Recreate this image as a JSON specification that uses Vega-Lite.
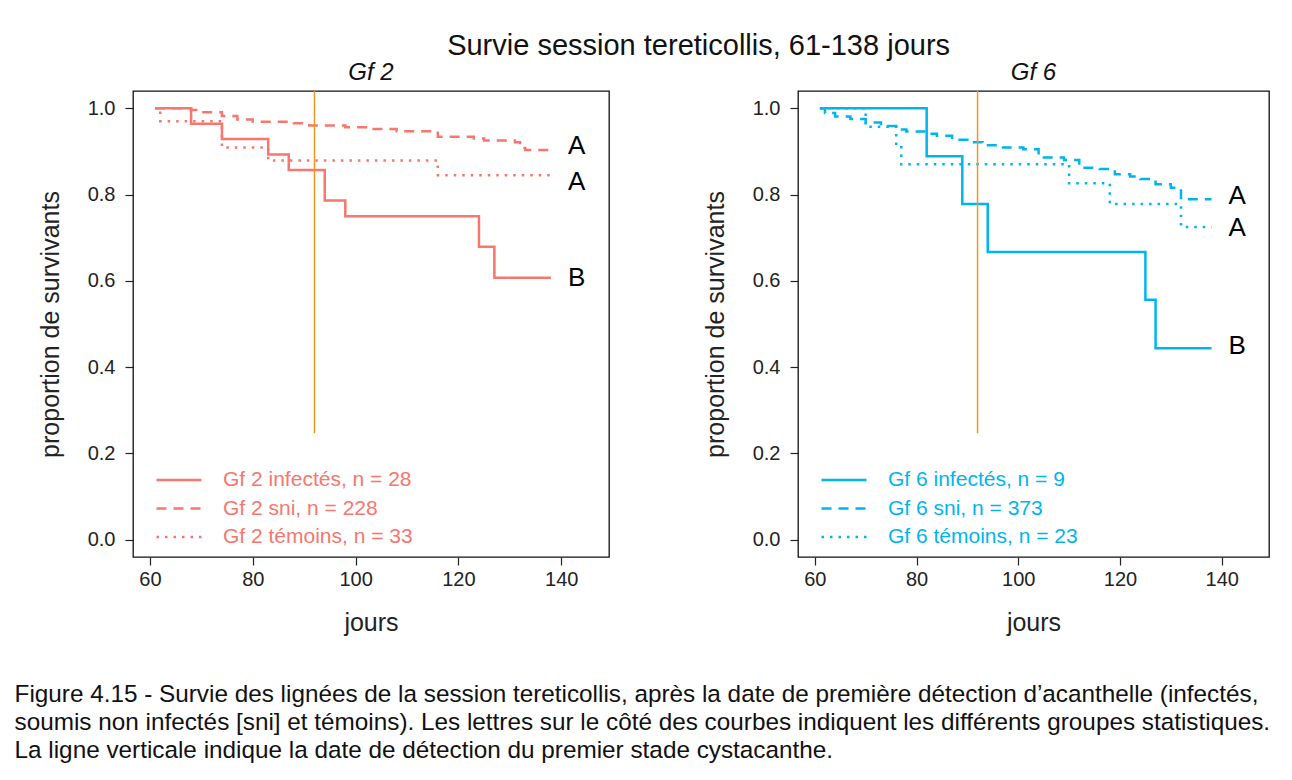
{
  "$schema": "https://vega.github.io/schema/vega-lite/v6.json",
  "background": "white",
  "padding": {"left": 14, "top": 31, "right": 0, "bottom": 12},
  "datasets": {
    "gf2": [
      {"groupe": "Gf 2 infectés, n = 28", "jour": 61, "survie": 1.0},
      {"groupe": "Gf 2 infectés, n = 28", "jour": 68, "survie": 0.964},
      {"groupe": "Gf 2 infectés, n = 28", "jour": 74, "survie": 0.929},
      {"groupe": "Gf 2 infectés, n = 28", "jour": 83, "survie": 0.893},
      {"groupe": "Gf 2 infectés, n = 28", "jour": 87, "survie": 0.857},
      {"groupe": "Gf 2 infectés, n = 28", "jour": 94, "survie": 0.786},
      {"groupe": "Gf 2 infectés, n = 28", "jour": 98, "survie": 0.75},
      {"groupe": "Gf 2 infectés, n = 28", "jour": 124, "survie": 0.679},
      {"groupe": "Gf 2 infectés, n = 28", "jour": 127, "survie": 0.607},
      {"groupe": "Gf 2 infectés, n = 28", "jour": 138, "survie": 0.607},
      {"groupe": "Gf 2 sni, n = 228", "jour": 61, "survie": 1.0},
      {"groupe": "Gf 2 sni, n = 228", "jour": 68, "survie": 0.996},
      {"groupe": "Gf 2 sni, n = 228", "jour": 70, "survie": 0.991},
      {"groupe": "Gf 2 sni, n = 228", "jour": 74, "survie": 0.982},
      {"groupe": "Gf 2 sni, n = 228", "jour": 77, "survie": 0.974},
      {"groupe": "Gf 2 sni, n = 228", "jour": 80, "survie": 0.969},
      {"groupe": "Gf 2 sni, n = 228", "jour": 88, "survie": 0.965},
      {"groupe": "Gf 2 sni, n = 228", "jour": 91, "survie": 0.96},
      {"groupe": "Gf 2 sni, n = 228", "jour": 98, "survie": 0.956},
      {"groupe": "Gf 2 sni, n = 228", "jour": 102, "survie": 0.952},
      {"groupe": "Gf 2 sni, n = 228", "jour": 108, "survie": 0.947},
      {"groupe": "Gf 2 sni, n = 228", "jour": 115, "survie": 0.943},
      {"groupe": "Gf 2 sni, n = 228", "jour": 116, "survie": 0.934},
      {"groupe": "Gf 2 sni, n = 228", "jour": 123, "survie": 0.93},
      {"groupe": "Gf 2 sni, n = 228", "jour": 125, "survie": 0.925},
      {"groupe": "Gf 2 sni, n = 228", "jour": 131, "survie": 0.921},
      {"groupe": "Gf 2 sni, n = 228", "jour": 132, "survie": 0.908},
      {"groupe": "Gf 2 sni, n = 228", "jour": 133, "survie": 0.903},
      {"groupe": "Gf 2 sni, n = 228", "jour": 138, "survie": 0.903},
      {"groupe": "Gf 2 témoins, n = 33", "jour": 61, "survie": 1.0},
      {"groupe": "Gf 2 témoins, n = 33", "jour": 62, "survie": 0.97},
      {"groupe": "Gf 2 témoins, n = 33", "jour": 74, "survie": 0.909},
      {"groupe": "Gf 2 témoins, n = 33", "jour": 83, "survie": 0.879},
      {"groupe": "Gf 2 témoins, n = 33", "jour": 116, "survie": 0.845},
      {"groupe": "Gf 2 témoins, n = 33", "jour": 138, "survie": 0.845}
    ],
    "gf6": [
      {"groupe": "Gf 6 infectés, n = 9", "jour": 61, "survie": 1.0},
      {"groupe": "Gf 6 infectés, n = 9", "jour": 82, "survie": 0.889},
      {"groupe": "Gf 6 infectés, n = 9", "jour": 89, "survie": 0.778},
      {"groupe": "Gf 6 infectés, n = 9", "jour": 94, "survie": 0.667},
      {"groupe": "Gf 6 infectés, n = 9", "jour": 125, "survie": 0.556},
      {"groupe": "Gf 6 infectés, n = 9", "jour": 127, "survie": 0.444},
      {"groupe": "Gf 6 infectés, n = 9", "jour": 138, "survie": 0.444},
      {"groupe": "Gf 6 sni, n = 373", "jour": 61, "survie": 1.0},
      {"groupe": "Gf 6 sni, n = 373", "jour": 62, "survie": 0.989},
      {"groupe": "Gf 6 sni, n = 373", "jour": 64, "survie": 0.981},
      {"groupe": "Gf 6 sni, n = 373", "jour": 67, "survie": 0.975},
      {"groupe": "Gf 6 sni, n = 373", "jour": 70, "survie": 0.967},
      {"groupe": "Gf 6 sni, n = 373", "jour": 73, "survie": 0.959},
      {"groupe": "Gf 6 sni, n = 373", "jour": 76, "survie": 0.951},
      {"groupe": "Gf 6 sni, n = 373", "jour": 78, "survie": 0.946},
      {"groupe": "Gf 6 sni, n = 373", "jour": 82, "survie": 0.941},
      {"groupe": "Gf 6 sni, n = 373", "jour": 84, "survie": 0.936},
      {"groupe": "Gf 6 sni, n = 373", "jour": 87, "survie": 0.927},
      {"groupe": "Gf 6 sni, n = 373", "jour": 90, "survie": 0.921},
      {"groupe": "Gf 6 sni, n = 373", "jour": 93, "survie": 0.914},
      {"groupe": "Gf 6 sni, n = 373", "jour": 97, "survie": 0.909},
      {"groupe": "Gf 6 sni, n = 373", "jour": 101, "survie": 0.905},
      {"groupe": "Gf 6 sni, n = 373", "jour": 104, "survie": 0.886},
      {"groupe": "Gf 6 sni, n = 373", "jour": 109, "survie": 0.88},
      {"groupe": "Gf 6 sni, n = 373", "jour": 112, "survie": 0.862},
      {"groupe": "Gf 6 sni, n = 373", "jour": 116, "survie": 0.859},
      {"groupe": "Gf 6 sni, n = 373", "jour": 119, "survie": 0.847},
      {"groupe": "Gf 6 sni, n = 373", "jour": 122, "survie": 0.842},
      {"groupe": "Gf 6 sni, n = 373", "jour": 124, "survie": 0.836},
      {"groupe": "Gf 6 sni, n = 373", "jour": 127, "survie": 0.824},
      {"groupe": "Gf 6 sni, n = 373", "jour": 130, "survie": 0.816},
      {"groupe": "Gf 6 sni, n = 373", "jour": 132, "survie": 0.789},
      {"groupe": "Gf 6 sni, n = 373", "jour": 138, "survie": 0.789},
      {"groupe": "Gf 6 témoins, n = 23", "jour": 61, "survie": 1.0},
      {"groupe": "Gf 6 témoins, n = 23", "jour": 70, "survie": 0.957},
      {"groupe": "Gf 6 témoins, n = 23", "jour": 76, "survie": 0.913},
      {"groupe": "Gf 6 témoins, n = 23", "jour": 77, "survie": 0.87},
      {"groupe": "Gf 6 témoins, n = 23", "jour": 110, "survie": 0.826},
      {"groupe": "Gf 6 témoins, n = 23", "jour": 118, "survie": 0.778},
      {"groupe": "Gf 6 témoins, n = 23", "jour": 132, "survie": 0.725},
      {"groupe": "Gf 6 témoins, n = 23", "jour": 138, "survie": 0.725}
    ],
    "lettres2": [
      {"jour": 138, "survie": 0.912, "lettre": "A"},
      {"jour": 138, "survie": 0.83, "lettre": "A"},
      {"jour": 138, "survie": 0.607, "lettre": "B"}
    ],
    "lettres6": [
      {"jour": 138, "survie": 0.796, "lettre": "A"},
      {"jour": 138, "survie": 0.722, "lettre": "A"},
      {"jour": 138, "survie": 0.449, "lettre": "B"}
    ],
    "cystacanthe": [{"jour": 92}]
  },
  "config": {
    "font": "Liberation Sans",
    "view": {"stroke": "#111", "strokeWidth": 1.3},
    "axis": {
      "domain": false, "grid": false, "tickColor": "#222", "tickSize": 8, "tickWidth": 1.2,
      "labelFontSize": 20, "labelColor": "#222", "labelFont": "Liberation Sans",
      "titleFontSize": 25, "titleFontWeight": "normal", "titleColor": "#222", "titleFont": "Liberation Sans"
    },
    "axisY": {"labelPadding": 10, "titlePadding": 24},
    "axisX": {"labelPadding": 4, "titlePadding": 21},
    "legend": {
      "orient": "bottom-left", "title": null, "symbolType": "stroke", "symbolSize": 2025,
      "symbolStrokeWidth": 2.5, "labelFontSize": 21, "labelFont": "Liberation Sans", "labelLimit": 400,
      "clipHeight": 22, "rowPadding": 6.5, "labelOffset": 20, "padding": 0, "offset": 9, "symbolOffset": 13
    }
  },
  "title": {
    "text": [
      "Figure 4.15 - Survie des lignées de la session tereticollis, après la date de première détection d’acanthelle (infectés,",
      "soumis non infectés [sni] et témoins). Les lettres sur le côté des courbes indiquent les différents groupes statistiques.",
      "La ligne verticale indique la date de détection du premier stade cystacanthe."
    ],
    "orient": "bottom", "anchor": "start", "font": "Liberation Sans", "fontSize": 24.3, "fontWeight": "normal",
    "color": "#111", "lineHeight": 28, "offset": 47, "dx": -23
  },
  "vconcat": [
    {
      "title": {"text": "Survie session tereticollis, 61-138 jours", "font": "Liberation Sans", "fontSize": 29, "fontWeight": "normal", "color": "#111", "anchor": "middle", "dx": 45, "offset": 0},
      "spacing": 92,
      "resolve": {"scale": {"strokeDash": "independent"}, "legend": {"strokeDash": "independent"}},
      "hconcat": [
        {
          "width": 476, "height": 466,
          "title": {"text": "Gf 2", "fontStyle": "italic", "fontSize": 24, "fontWeight": "normal", "color": "#111", "offset": 5},
          "layer": [
            {
              "data": {"name": "gf2"},
              "mark": {"type": "line", "interpolate": "step-after", "color": "#F8766D", "strokeWidth": 2.5},
              "encoding": {
                "x": {"field": "jour", "type": "quantitative", "scale": {"domain": [56.7, 149.3], "nice": false, "zero": false}, "axis": {"values": [60, 80, 100, 120, 140], "title": "jours"}},
                "y": {"field": "survie", "type": "quantitative", "scale": {"domain": [-0.04, 1.04], "nice": false, "zero": false}, "axis": {"values": [0, 0.2, 0.4, 0.6, 0.8, 1.0], "format": ".1f", "title": "proportion de survivants"}},
                "strokeDash": {
                  "field": "groupe", "type": "nominal",
                  "scale": {"domain": ["Gf 2 infectés, n = 28", "Gf 2 sni, n = 228", "Gf 2 témoins, n = 33"], "range": [[1, 0], [10, 7], [2.5, 6]]},
                  "legend": {"labelColor": "#F8766D", "symbolStrokeColor": "#F8766D"}
                }
              }
            },
            {
              "data": {"name": "cystacanthe"},
              "mark": {"type": "rule", "color": "#F7941D", "strokeWidth": 1.5},
              "encoding": {"x": {"field": "jour", "type": "quantitative"}, "y": {"datum": 0.247}, "y2": {"datum": 1.04}}
            },
            {
              "data": {"name": "lettres2"},
              "mark": {"type": "text", "align": "left", "baseline": "middle", "dx": 17, "font": "Liberation Sans", "fontSize": 26, "color": "#000"},
              "encoding": {"x": {"field": "jour", "type": "quantitative"}, "y": {"field": "survie", "type": "quantitative"}, "text": {"field": "lettre"}}
            }
          ]
        },
        {
          "width": 471, "height": 466,
          "title": {"text": "Gf 6", "fontStyle": "italic", "fontSize": 24, "fontWeight": "normal", "color": "#111", "offset": 5},
          "layer": [
            {
              "data": {"name": "gf6"},
              "mark": {"type": "line", "interpolate": "step-after", "color": "#00B5EE", "strokeWidth": 2.5},
              "encoding": {
                "x": {"field": "jour", "type": "quantitative", "scale": {"domain": [56.7, 149.3], "nice": false, "zero": false}, "axis": {"values": [60, 80, 100, 120, 140], "title": "jours"}},
                "y": {"field": "survie", "type": "quantitative", "scale": {"domain": [-0.04, 1.04], "nice": false, "zero": false}, "axis": {"values": [0, 0.2, 0.4, 0.6, 0.8, 1.0], "format": ".1f", "title": "proportion de survivants"}},
                "strokeDash": {
                  "field": "groupe", "type": "nominal",
                  "scale": {"domain": ["Gf 6 infectés, n = 9", "Gf 6 sni, n = 373", "Gf 6 témoins, n = 23"], "range": [[1, 0], [10, 7], [2.5, 6]]},
                  "legend": {"labelColor": "#00B5EE", "symbolStrokeColor": "#00B5EE"}
                }
              }
            },
            {
              "data": {"name": "cystacanthe"},
              "mark": {"type": "rule", "color": "#F7941D", "strokeWidth": 1.5},
              "encoding": {"x": {"field": "jour", "type": "quantitative"}, "y": {"datum": 0.247}, "y2": {"datum": 1.04}}
            },
            {
              "data": {"name": "lettres6"},
              "mark": {"type": "text", "align": "left", "baseline": "middle", "dx": 17, "font": "Liberation Sans", "fontSize": 26, "color": "#000"},
              "encoding": {"x": {"field": "jour", "type": "quantitative"}, "y": {"field": "survie", "type": "quantitative"}, "text": {"field": "lettre"}}
            }
          ]
        }
      ]
    }
  ]
}
